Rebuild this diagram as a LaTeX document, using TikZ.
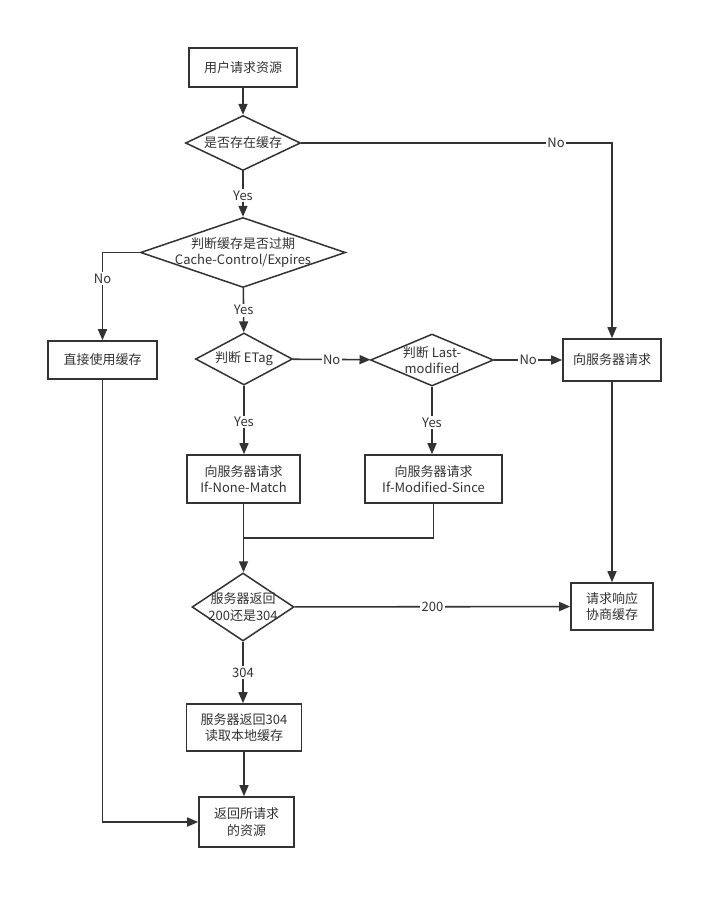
\documentclass[tikz,border=0pt]{standalone}
\usepackage{fontspec}
\setmainfont{Noto Sans CJK SC}
\usetikzlibrary{shapes.geometric,arrows.meta}
\definecolor{flowgray}{RGB}{51,51,51}

\begin{document}
\begin{tikzpicture}[x=1pt, y=-1pt,
    font=\fontsize{13}{16.5}\selectfont,
    box/.style={draw=flowgray, line width=1.6pt, fill=white, inner sep=0pt, align=center, text=flowgray},
    decision/.style={diamond, draw=flowgray, line width=1.5pt, fill=white, inner sep=0pt},
    dtext/.style={align=center, text=flowgray},
    flow/.style={draw=flowgray, line width=1.6pt, -{Triangle[length=11pt,width=9pt]}},
    plain/.style={draw=flowgray, line width=1.6pt},
    edgelbl/.style={fill=white, inner sep=1.5pt, text=flowgray}]
    \useasboundingbox[fill=white] (0,0) rectangle (723,910);

    % Boxes
    \node[box, minimum width=108pt, minimum height=39pt] (start) at (243,67.5) {用户请求资源};
    \node[box, minimum width=109pt, minimum height=38pt] (direct) at (102.5,360) {直接使用缓存};
    \node[box, minimum width=98pt, minimum height=42pt] (req) at (612,360) {向服务器请求};
    \node[box, minimum width=113pt, minimum height=48pt] (inm) at (243.5,479) {向服务器请求\\If-None-Match};
    \node[box, minimum width=137pt, minimum height=48pt] (ims) at (433.5,479) {向服务器请求\\If-Modified-Since};
    \node[box, minimum width=82pt, minimum height=47pt] (resp) at (612,606.5) {请求响应\\协商缓存};
    \node[box, minimum width=115pt, minimum height=47pt] (r304) at (244,727.5) {服务器返回304\\读取本地缓存};
    \node[box, minimum width=95pt, minimum height=50pt] (final) at (246.5,822) {返回所请求\\的资源};

    % Decisions
    \node[decision, minimum width=115pt, minimum height=55pt,
        label={[dtext]center:{是否存在缓存}}] (cached) at (243,143) {};
    \node[decision, minimum width=205pt, minimum height=70pt,
        label={[dtext]center:{判断缓存是否过期\\Cache-Control/Expires}}] (expired) at (243,252.5) {};
    \node[decision, minimum width=97pt, minimum height=52pt,
        label={[dtext]center:{判断 ETag}}] (etag) at (244,359) {};
    \node[decision, minimum width=123pt, minimum height=52pt,
        label={[dtext]center:{判断 Last-\\modified}}] (lastmod) at (432,360) {};
    \node[decision, minimum width=102pt, minimum height=68pt,
        label={[dtext]center:{服务器返回\\200还是304}}] (status) at (243,607) {};

    \coordinate (merge) at (243.5,538);

    % Connectors
    \draw[flow] (start) -- (cached);
    \draw[flow] (cached.east) -| node[edgelbl, pos=0.41] {No} (req.north);
    \draw[flow] (cached) -- node[edgelbl, pos=0.54] {Yes} (expired);
    \draw[flow] (expired.west) -| node[edgelbl, pos=0.65] {No} (direct.north);
    \draw[flow] (expired) -- node[edgelbl] {Yes} (etag);
    \draw[flow] (etag) -- node[edgelbl] {No} (lastmod);
    \draw[flow] (lastmod) -- node[edgelbl] {No} (req);
    \draw[flow] (etag) -- node[edgelbl, pos=0.53] {Yes} (etag |- inm.north);
    \draw[flow] (lastmod) -- node[edgelbl, pos=0.53] {Yes} (lastmod |- ims.north);
    \draw[plain] (ims.south) |- (merge);
    \draw[flow] (inm.south) -- (inm.south |- status.north);
    \draw[flow] (req) -- (resp);
    \draw[flow] (status) -- node[edgelbl] {200} (resp);
    \draw[flow] (status) -- node[edgelbl] {304} (status |- r304.north);
    \draw[flow] (r304.south) -- (r304.south |- final.north);
    \draw[flow] (direct.south) |- (final.west);

\end{tikzpicture}
\end{document}
